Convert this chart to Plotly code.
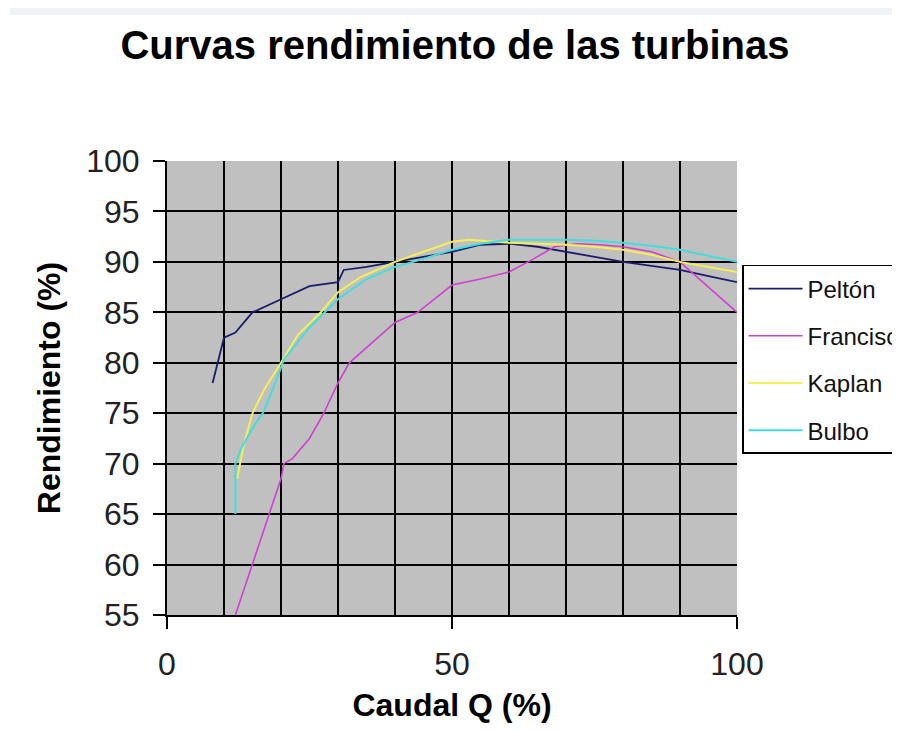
import plotly.graph_objects as go

# ---- data ----
pelton_q = [8, 10, 12, 15, 20, 25, 30, 31, 35, 40, 45, 50, 55, 60, 65, 70, 75, 80, 85, 90, 95, 100]
pelton_r = [78, 82.5, 83, 85, 86.3, 87.6, 88, 89.2, 89.5, 90, 90.5, 91, 91.7, 91.8, 91.5, 91,
            90.5, 90, 89.6, 89.2, 88.6, 88]

francis_q = [12, 15, 18, 20, 20.5, 22, 25, 27.5, 30, 32, 35, 40, 44, 50, 55, 60, 64, 68, 72,
             76, 80, 85, 90, 95, 100]
francis_r = [55, 60, 65, 68.5, 70, 70.5, 72.5, 75, 78, 80, 81.5, 84, 85, 87.7, 88.3, 89, 90.2,
             91.5, 91.8, 91.7, 91.5, 91, 90, 87.5, 85]

kaplan_q = [12.3, 13.4, 15, 17, 20, 23, 27, 30, 34, 40, 45, 50, 53, 57, 60, 65, 70, 75, 80, 85,
            90, 95, 100]
kaplan_r = [68.5, 71.7, 75, 77.3, 80, 82.8, 85, 87, 88.5, 90, 91, 92, 92.2, 92, 91.9, 91.8, 91.7,
            91.5, 91.2, 90.7, 90, 89.5, 89]

bulbo_q = [12, 12, 13, 15, 17, 19, 20.5, 25, 30, 35, 40, 45, 50, 55, 60, 65, 70, 75, 80, 85, 90,
           95, 100]
bulbo_r = [65, 70, 71.5, 73.5, 75.2, 78, 80.3, 83.5, 86.3, 88.3, 89.5, 90.3, 91.2, 91.8, 92.2,
           92.2, 92.2, 92.1, 91.9, 91.6, 91.2, 90.6, 90]

series = [
    ('Peltón', pelton_q, pelton_r, '#1c1c6e', 1.8),
    ('Francisco', francis_q, francis_r, '#d040d0', 1.6),
    ('Kaplan', kaplan_q, kaplan_r, '#f4ef55', 2),
    ('Bulbo', bulbo_q, bulbo_r, '#45dcdc', 2),
]

FONT = 'Liberation Sans, Arial, sans-serif'

fig = go.Figure()
for i, (name, q, r, col, w) in enumerate(series):
    fig.add_trace(go.Scatter(
        x=q, y=r, mode='lines', name=name, legendgroup=str(i),
        line=dict(color=col, width=w),
    ))

# the page has an 8px body margin, so the figure starts at (8, 8) on screen
fig.update_layout(
    width=900, height=731,
    paper_bgcolor='white',
    plot_bgcolor='#c0c0c0',
    font=dict(family=FONT, color='#111111'),
    margin=dict(l=159, r=171, t=153, b=124, autoexpand=False),
    title=dict(
        text='<b>Curvas rendimiento de las turbinas</b>',
        font=dict(size=40, color='black', family=FONT),
        x=447 / 900, xanchor='center', xref='container',
        y=1 - 37 / 731, yanchor='middle', yref='container',
    ),
    showlegend=True,
    legend=dict(
        x=1.0088, xanchor='left', y=0.771, yanchor='top',
        bgcolor='white', bordercolor='black', borderwidth=1.5,
        font=dict(size=24, color='#111111'),
        tracegroupgap=13,
        itemwidth=54,
    ),
    shapes=[dict(
        type='rect', xref='paper', yref='paper',
        x0=(10 - 167) / 570, x1=(910 - 167) / 570,
        y0=(615 - 15) / 454, y1=(615 - 8) / 454,
        fillcolor='#eef1f6', line=dict(width=0), layer='below',
    )],
)

fig.update_xaxes(
    range=[0, 100], dtick=50, tick0=0,
    showline=True, linecolor='black', linewidth=2,
    showgrid=True, gridcolor='black', gridwidth=1.5,
    minor=dict(dtick=10, showgrid=True, gridcolor='black', gridwidth=1.5),
    ticks='outside', ticklen=12, tickcolor='black', tickwidth=2,
    tickfont=dict(size=32, color='#222222'),
    ticklabelstandoff=8,
    zeroline=False,
    title=dict(text='<b>Caudal Q (%)</b>', font=dict(size=32, color='black'), standoff=12),
)
fig.update_yaxes(
    range=[55, 100], dtick=5, tick0=55,
    showline=True, linecolor='black', linewidth=2,
    showgrid=True, gridcolor='black', gridwidth=1.5,
    ticks='outside', ticklen=12, tickcolor='black', tickwidth=2,
    tickfont=dict(size=32, color='#222222'),
    ticklabelstandoff=7,
    zeroline=False,
    title=dict(text='<b>Rendimiento (%)</b>', font=dict(size=32, color='black'), standoff=16),
)

fig.write_html('out.html')
